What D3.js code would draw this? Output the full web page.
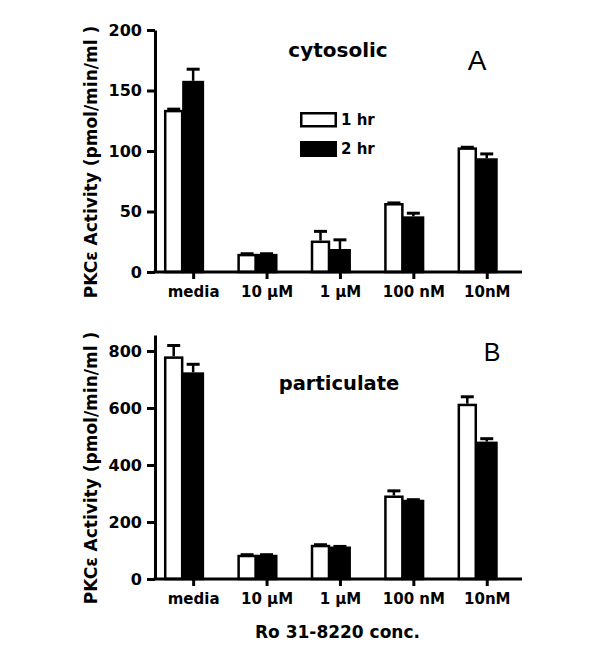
<!DOCTYPE html>
<html>
<head>
<meta charset="utf-8">
<script src="https://cdn.jsdelivr.net/npm/d3@7"></script>
<style>
  html, body { margin: 0; padding: 0; background: #fff; }
  svg { display: block; }
  text { font-family: "DejaVu Sans", sans-serif; font-weight: bold; fill: #000; }
</style>
</head>
<body>
<svg id="chart" width="604" height="648"></svg>
<script>
// ---- data ----
const categories = ["media", "10 \u00B5M", "1 \u00B5M", "100 nM", "10nM"];
const seriesNames = ["1 hr", "2 hr"];

const cytosolic1hr = [134, 15, 26, 57, 103];
const cytosolic1hrErr = [1, 0.5, 8, 0.5, 0.5];
const cytosolic2hr = [158, 15, 19, 46, 94];
const cytosolic2hrErr = [10, 0.5, 8, 3, 4];

const particulate1hr = [781, 85, 120, 293, 615];
const particulate1hrErr = [40, 2, 2, 18, 26];
const particulate2hr = [725, 85, 114, 278, 482];
const particulate2hrErr = [30, 2, 2, 2, 12];

const cytosolicTicks = [0, 50, 100, 150, 200];
const particulateTicks = [0, 200, 400, 600, 800];

const yAxisLabel = "PKC\u03B5 Activity (pmol/min/ml )";
const xAxisLabel = "Ro 31-8220 conc.";

// ---- layout ----
const svg = d3.select("#chart");
const xLeft = 155, xRight = 522;
const barStroke = 2.5, axisStroke = 3;

const x = d3.scaleBand().domain(categories).range([xLeft, xRight])
  .paddingInner(0.47).paddingOuter(0.235).align(0.26);
const sub = d3.scaleBand().domain(seriesNames).range([0, x.bandwidth()]);
const tickScale = d3.scaleOrdinal().domain(categories)
  .range(categories.map(c => x(c) + sub("2 hr") + sub.bandwidth() / 2));

const panels = [
  { y: d3.scaleLinear().domain([0, 200]).range([272, 30]), ticks: cytosolicTicks,
    s1: cytosolic1hr, e1: cytosolic1hrErr, s2: cytosolic2hr, e2: cytosolic2hrErr,
    title: "cytosolic", titleX: 338, titleY: 57, titleSize: 20,
    letter: "A", letterX: 477, letterY: 70, letterSize: 28,
    legend: true, yLabelY: 162 },
  { y: d3.scaleLinear().domain([0, 856]).range([579, 335]), ticks: particulateTicks,
    s1: particulate1hr, e1: particulate1hrErr, s2: particulate2hr, e2: particulate2hrErr,
    title: "particulate", titleX: 339, titleY: 390, titleSize: 19.5,
    letter: "B", letterX: 492, letterY: 361, letterSize: 25,
    legend: false, yLabelY: 468 }
];

panels.forEach(p => {
  const g = svg.append("g");
  const y = p.y;
  const y0 = y(0);

  // bars: 1 hr (white outlined)
  g.selectAll("rect.b1").data(categories).join("rect")
    .attr("class", "b1")
    .attr("x", (c) => x(c) + sub("1 hr") + barStroke / 2)
    .attr("y", (c, i) => y(p.s1[i]) + barStroke / 2)
    .attr("width", sub.bandwidth() - barStroke)
    .attr("height", (c, i) => y0 - y(p.s1[i]) - barStroke / 2)
    .attr("fill", "#fff").attr("stroke", "#000").attr("stroke-width", barStroke);

  // bars: 2 hr (black)
  g.selectAll("rect.b2").data(categories).join("rect")
    .attr("class", "b2")
    .attr("x", (c) => x(c) + sub("2 hr"))
    .attr("y", (c, i) => y(p.s2[i]) + barStroke / 2)
    .attr("width", sub.bandwidth())
    .attr("height", (c, i) => y0 - y(p.s2[i]) - barStroke / 2)
    .attr("fill", "#000").attr("stroke", "#000").attr("stroke-width", barStroke);

  // error bars (upper only)
  const errs = [];
  categories.forEach((c, i) => {
    errs.push({ cx: x(c) + sub("1 hr") + sub.bandwidth() / 2, v: p.s1[i], e: p.e1[i] });
    errs.push({ cx: x(c) + sub("2 hr") + sub.bandwidth() / 2, v: p.s2[i], e: p.e2[i] });
  });
  const eg = g.selectAll("g.err").data(errs).join("g").attr("class", "err");
  eg.append("line")
    .attr("x1", d => d.cx).attr("x2", d => d.cx)
    .attr("y1", d => y(d.v)).attr("y2", d => y(d.v + d.e))
    .attr("stroke", "#000").attr("stroke-width", barStroke);
  eg.append("line")
    .attr("x1", d => d.cx - 6.5).attr("x2", d => d.cx + 6.5)
    .attr("y1", d => y(d.v + d.e) + 0.5).attr("y2", d => y(d.v + d.e) + 0.5)
    .attr("stroke", "#000").attr("stroke-width", 3);

  // y axis
  const ya = g.append("g").attr("transform", `translate(${xLeft},0)`)
    .call(d3.axisLeft(y).tickValues(p.ticks).tickSize(8).tickSizeOuter(0).tickPadding(5));
  ya.select(".domain").attr("stroke-width", axisStroke);
  ya.selectAll(".tick line").attr("stroke-width", axisStroke);
  ya.selectAll(".tick text").attr("font-family", "DejaVu Sans").attr("font-weight", "bold").attr("font-size", 16);

  // x axis
  const xa = g.append("g").attr("transform", `translate(0,${y0})`)
    .call(d3.axisBottom(tickScale).tickSize(7).tickPadding(7.5));
  xa.select(".domain").remove();
  xa.selectAll(".tick line").attr("stroke-width", axisStroke);
  xa.selectAll(".tick text").attr("font-family", "DejaVu Sans").attr("font-weight", "bold").attr("font-size", 15);
  g.append("line").attr("x1", xLeft - 1.5).attr("x2", xRight)
    .attr("y1", y0).attr("y2", y0).attr("stroke", "#000").attr("stroke-width", axisStroke);

  // y axis label
  g.append("text")
    .attr("transform", `translate(91,${p.yLabelY}) rotate(-90)`)
    .attr("text-anchor", "middle").attr("dominant-baseline", "central")
    .attr("font-size", 17).text(yAxisLabel);

  // title
  g.append("text").attr("x", p.titleX).attr("y", p.titleY)
    .attr("text-anchor", "middle").attr("font-size", p.titleSize).text(p.title);

  // panel letter
  g.append("text").attr("x", p.letterX).attr("y", p.letterY)
    .attr("text-anchor", "middle")
    .style("font-family", "'Liberation Sans', Arial, sans-serif").style("font-weight", "normal")
    .attr("font-size", p.letterSize).text(p.letter);

  if (p.legend) {
    const lg = g.append("g");
    lg.append("rect").attr("x", 300 + barStroke / 2).attr("y", 112 + barStroke / 2)
      .attr("width", 37 - barStroke).attr("height", 15.5 - barStroke)
      .attr("fill", "#fff").attr("stroke", "#000").attr("stroke-width", barStroke);
    lg.append("rect").attr("x", 300).attr("y", 141).attr("width", 37).attr("height", 16)
      .attr("fill", "#000");
    lg.append("text").attr("x", 341).attr("y", 120).attr("dominant-baseline", "central")
      .attr("font-size", 15).text(seriesNames[0]);
    lg.append("text").attr("x", 341).attr("y", 149).attr("dominant-baseline", "central")
      .attr("font-size", 15).text(seriesNames[1]);
  }
});

// x axis title
svg.append("text").attr("x", 337.5).attr("y", 638)
  .attr("text-anchor", "middle").attr("font-size", 17).text(xAxisLabel);
</script>
</body>
</html>
